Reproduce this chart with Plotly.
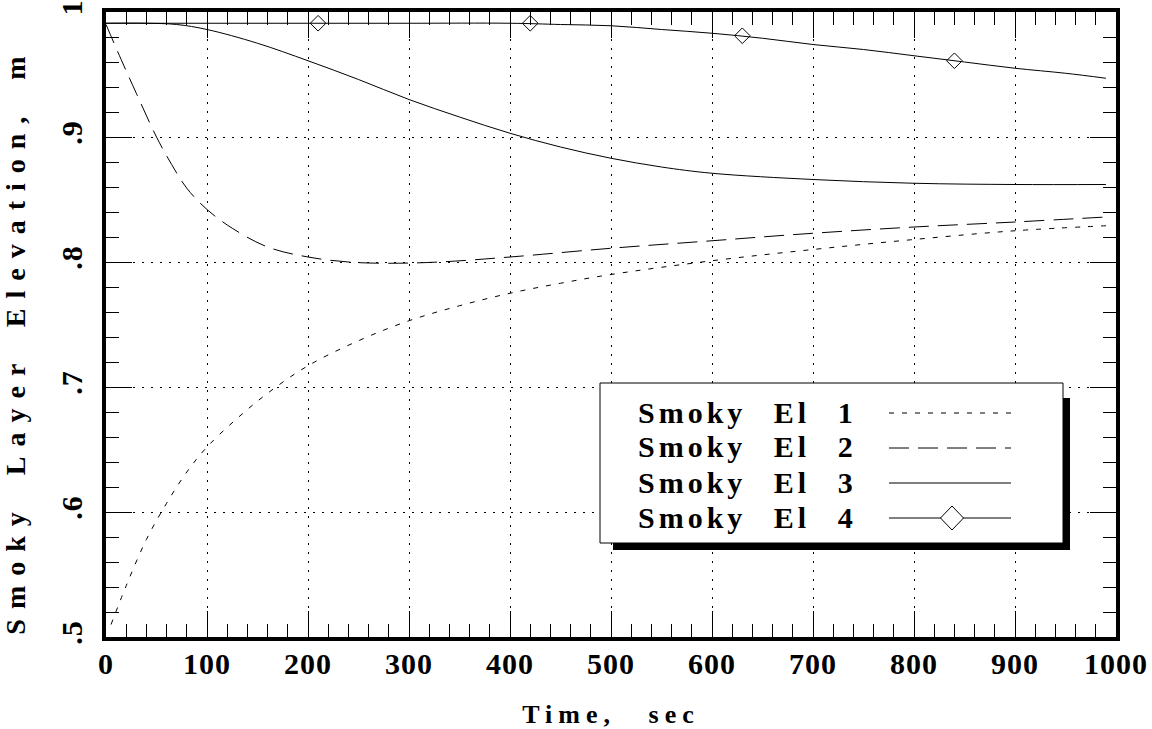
import plotly.graph_objects as go

# ---------------- data ----------------
t1 = [5, 20, 40, 60, 80, 100, 130, 160, 200, 250, 300, 350, 400, 450, 500, 600, 700, 800, 900, 990]
v1 = [0.51, 0.541, 0.578, 0.607, 0.632, 0.652, 0.675, 0.695, 0.717, 0.737, 0.753, 0.765,
      0.775, 0.783, 0.790, 0.801, 0.810, 0.818, 0.825, 0.829]

t2 = [0, 15, 30, 50, 65, 80, 100, 125, 160, 200, 240, 280, 330, 400, 500, 600, 700, 800, 900, 990]
v2 = [0.99, 0.962, 0.935, 0.900, 0.878, 0.859, 0.842, 0.827, 0.812, 0.804, 0.800, 0.799,
      0.800, 0.804, 0.811, 0.817, 0.823, 0.828, 0.832, 0.836]

t3 = [0, 40, 70, 100, 150, 200, 250, 300, 350, 400, 450, 500, 550, 600, 700, 800, 900, 990]
v3 = [0.991, 0.991, 0.990, 0.986, 0.975, 0.961, 0.946, 0.930, 0.916, 0.903, 0.892, 0.883,
      0.876, 0.871, 0.866, 0.863, 0.862, 0.862]

t4 = [0, 100, 200, 300, 400, 450, 500, 550, 600, 650, 700, 750, 800, 850, 900, 950, 990]
v4 = [0.991, 0.991, 0.991, 0.991, 0.991, 0.990, 0.989, 0.986, 0.983, 0.979, 0.974, 0.970,
      0.965, 0.960, 0.955, 0.951, 0.947]

t4_marks = [210, 420, 630, 840]
v4_marks = [0.991, 0.991, 0.981, 0.961]

series_names = ["Smoky El 1", "Smoky El 2", "Smoky El 3", "Smoky El 4"]

x_ticks = [0, 100, 200, 300, 400, 500, 600, 700, 800, 900, 1000]
x_tick_labels = ["0", "100", "200", "300", "400", "500", "600", "700", "800", "900", "1000"]
y_ticks = [0.5, 0.6, 0.7, 0.8, 0.9, 1.0]
y_tick_labels = [".5", ".6", ".7", ".8", ".9", "1"]

x_title = "Time, sec"
y_title = "Smoky Layer Elevation, m"

# ---------------- layout geometry ----------------
W, H = 1152, 729
L, R, T, B = 106, 1116, 12, 637          # plot area in pixels
FONT = "Liberation Serif"


def px(xp):
    return (xp - L) / (R - L)


def py(yp):
    return (B - yp) / (B - T)


short_dash = "5px,8px"
long_dash = "20px,9px"

fig = go.Figure()
fig.add_trace(go.Scatter(x=t1, y=v1, mode="lines", name=series_names[0],
                         line=dict(color="black", width=1, dash=short_dash, shape="spline")))
fig.add_trace(go.Scatter(x=t2, y=v2, mode="lines", name=series_names[1],
                         line=dict(color="black", width=1, dash=long_dash, shape="spline")))
fig.add_trace(go.Scatter(x=t3, y=v3, mode="lines", name=series_names[2],
                         line=dict(color="black", width=1, shape="spline")))
fig.add_trace(go.Scatter(x=t4, y=v4, mode="lines", name=series_names[3],
                         line=dict(color="black", width=1, shape="spline")))
fig.add_trace(go.Scatter(x=t4_marks, y=v4_marks, mode="markers", name=series_names[3],
                         showlegend=False,
                         marker=dict(symbol="diamond-open", size=12, color="black",
                                     line=dict(color="black", width=1))))

axis_common = dict(
    showline=True, linewidth=4, linecolor="black", mirror="allticks",
    ticks="inside", ticklen=26, tickwidth=1, tickcolor="black",
    showgrid=True, gridcolor="black", gridwidth=1, griddash="2px,7px",
    zeroline=False,
    tickfont=dict(family=FONT, size=30, color="black", weight="bold"),
)

fig.update_xaxes(
    range=[0, 1000], tickmode="array", tickvals=x_ticks, ticktext=x_tick_labels,
    minor=dict(dtick=20, ticks="inside", ticklen=13, tickwidth=1, tickcolor="black", showgrid=False),
    ticklabelstandoff=-3,
    title=dict(text=x_title, font=dict(family=FONT, size=26, color="black", weight="bold"), standoff=33),
    **axis_common,
)
fig.update_yaxes(
    range=[0.5, 1.0], tickmode="array", tickvals=y_ticks, ticktext=y_tick_labels,
    minor=dict(dtick=0.02, ticks="inside", ticklen=13, tickwidth=1, tickcolor="black", showgrid=False),
    tickangle=-90, ticklabelstandoff=8,
    title=dict(text=y_title, font=dict(family=FONT, size=28, color="black", weight="bold"), standoff=26),
    **axis_common,
)

# ---------------- custom legend (text left, sample right) ----------------
box_x0, box_x1, box_y0, box_y1 = 600, 1063, 383, 543
shadow = 7
shapes = [
    dict(type="rect", xref="paper", yref="paper", layer="above",
         x0=px(box_x0 + 13), x1=px(box_x1 + shadow), y0=py(box_y1 + shadow), y1=py(box_y0 + 15),
         fillcolor="black", line=dict(width=0)),
    dict(type="rect", xref="paper", yref="paper", layer="above",
         x0=px(box_x0), x1=px(box_x1), y0=py(box_y1), y1=py(box_y0),
         fillcolor="white", line=dict(color="black", width=1)),
]
row_y = [412, 447, 482, 517]
sample_dash = [short_dash, long_dash, "solid", "solid"]
annotations = []
for name, ry, dsh in zip(series_names, row_y, sample_dash):
    annotations.append(dict(xref="paper", yref="paper", x=px(636), y=py(ry),
                            xanchor="left", yanchor="middle", align="left", showarrow=False,
                            text=name,
                            font=dict(family=FONT, size=30, color="black", weight="bold")))
    shapes.append(dict(type="line", xref="paper", yref="paper", layer="above",
                       x0=px(889), x1=px(1011), y0=py(ry + 1), y1=py(ry + 1),
                       line=dict(color="black", width=1, dash=dsh)))
# diamond sample for series 4
dcx, dcy, dw, dh = 952, 518, 11.5, 12
shapes.append(dict(type="path", xref="paper", yref="paper", layer="above",
                   path=f"M {px(dcx - dw)} {py(dcy)} L {px(dcx)} {py(dcy - dh)} "
                        f"L {px(dcx + dw)} {py(dcy)} L {px(dcx)} {py(dcy + dh)} Z",
                   fillcolor="white", line=dict(color="black", width=1)))

fig.update_layout(
    width=W, height=H,
    margin=dict(l=L, r=W - R, t=T, b=H - B, autoexpand=False),
    paper_bgcolor="white", plot_bgcolor="white",
    showlegend=False,
    shapes=shapes, annotations=annotations,
    font=dict(family=FONT, color="black"),
)

post = """
var s = document.createElement('style');
s.textContent = '.xtick text, .ytick text {letter-spacing: 1px;}' +
  ' .xtitle {letter-spacing: 6px; word-spacing: 20px;}' +
  ' .ytitle {letter-spacing: 10px; word-spacing: 10px; translate: 0px 16px;}' +
  ' .annotation-text {letter-spacing: 4px; word-spacing: 16px;}';
document.head.appendChild(s);
"""
fig.write_html("out.html", post_script=post, config={"displayModeBar": False})
